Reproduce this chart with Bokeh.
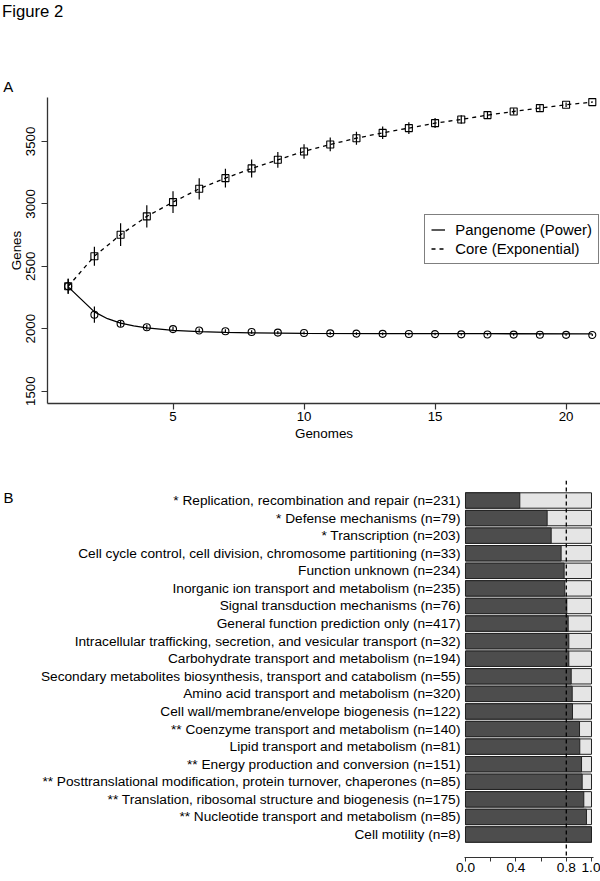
from bokeh.plotting import figure
from bokeh.models import (Range1d, FixedTicker, NumeralTickFormatter, Legend,
                          LegendItem, Label, Span)
from bokeh.layouts import column, row
from bokeh.embed import file_html
from bokeh.resources import INLINE

FONT = "Liberation Sans"

# ---------------- Panel A data ----------------
genomes = list(range(1, 22))
squares_mean = [2340, 2581, 2753, 2900, 3014, 3121, 3206, 3284, 3353, 3420, 3476,
                3526, 3569, 3607, 3647, 3676, 3711, 3740, 3767, 3794, 3815]
squares_sd = [60, 76, 91, 89, 87, 85, 75, 72, 63, 58, 55, 52, 50, 47, 40, 34,
              28, 25, 22, 18, 4]
circles_mean = [2340, 2112, 2040, 2012, 1997, 1986, 1980, 1974, 1969, 1966, 1963,
                1961, 1959, 1958, 1957, 1955, 1954, 1953, 1952, 1951, 1950]
circles_sd = [60, 65, 25, 20, 18, 16, 15, 14, 13, 12, 12, 11, 11, 10, 10, 10,
              9, 9, 9, 8, 8]
power_fit_x = [1, 1.5, 2, 2.5, 3, 3.5, 4, 5, 6, 7, 8, 10, 13, 17, 21]
power_fit_y = [2335, 2235, 2135, 2080, 2045, 2022, 2006, 1987, 1976, 1970, 1967,
               1963, 1961, 1960, 1959]
x_ticks_a = [5, 10, 15, 20]
y_ticks_a = [1500, 2000, 2500, 3000, 3500]
legend_labels = ["Pangenome (Power)", "Core (Exponential)"]

# ---------------- Panel B data ----------------
categories = [
    "* Replication, recombination and repair (n=231)",
    "* Defense mechanisms (n=79)",
    "* Transcription (n=203)",
    "Cell cycle control, cell division, chromosome partitioning (n=33)",
    "Function unknown (n=234)",
    "Inorganic ion transport and metabolism (n=235)",
    "Signal transduction mechanisms (n=76)",
    "General function prediction only (n=417)",
    "Intracellular trafficking, secretion, and vesicular transport (n=32)",
    "Carbohydrate transport and metabolism (n=194)",
    "Secondary metabolites biosynthesis, transport and catabolism (n=55)",
    "Amino acid transport and metabolism (n=320)",
    "Cell wall/membrane/envelope biogenesis (n=122)",
    "** Coenzyme transport and metabolism (n=140)",
    "Lipid transport and metabolism (n=81)",
    "** Energy production and conversion (n=151)",
    "** Posttranslational modification, protein turnover, chaperones (n=85)",
    "** Translation, ribosomal structure and biogenesis (n=175)",
    "** Nucleotide transport and metabolism (n=85)",
    "Cell motility (n=8)",
]
fractions = [0.431, 0.648, 0.680, 0.759, 0.783, 0.788, 0.804, 0.815, 0.820, 0.820,
             0.839, 0.847, 0.849, 0.905, 0.907, 0.921, 0.926, 0.939, 0.960, 1.0]
threshold = 0.8
x_ticks_b = [0, 0.4, 0.8, 1.0]
x_minor_b = [0.2, 0.6]

W = 600
H0 = 97      # header strip ("Figure 2", "A")
H1 = 353     # panel A
H2 = 431     # panel B
WB = 20      # strip holding the "B" letter
AX = "#333333"


def blank(width, height):
    f = figure(width=width, height=height, output_backend="svg",
               toolbar_location=None, x_range=Range1d(0, width),
               y_range=Range1d(height, 0), min_border=0,
               x_axis_location=None, y_axis_location=None)
    f.outline_line_color = None
    f.grid.visible = False
    return f


# ---------------- header ----------------
p0 = blank(W, H0)
p0.add_layout(Label(x=1.5, y=10.5, text="Figure 2", text_font=FONT,
                    text_font_size="16.7px", text_baseline="alphabetic",
                    text_align="left", text_color="black"))
p0.add_layout(Label(x=2.7, y=85.5, text="A", text_font=FONT,
                    text_font_size="15px", text_baseline="alphabetic",
                    text_align="left", text_color="black"))

# ---------------- Panel A ----------------
p1 = figure(width=W, height=H1, output_backend="svg", toolbar_location=None,
            x_range=Range1d(0.2105, 21.313), y_range=Range1d(1401, 3852),
            min_border_left=47, min_border_right=0, min_border_top=0,
            min_border_bottom=47)
p1.outline_line_color = None
p1.grid.visible = False

p1.segment(x0=genomes, y0=[m - s for m, s in zip(squares_mean, squares_sd)],
           x1=genomes, y1=[m + s for m, s in zip(squares_mean, squares_sd)],
           line_color="black", line_width=1.2)
p1.segment(x0=genomes, y0=[m - s for m, s in zip(circles_mean, circles_sd)],
           x1=genomes, y1=[m + s for m, s in zip(circles_mean, circles_sd)],
           line_color="black", line_width=1.2)
r_solid = p1.line(power_fit_x, power_fit_y, line_color="black", line_width=1.3)
r_dash = p1.line(genomes, squares_mean, line_color="black", line_width=1.3,
                 line_dash="4 4")
p1.scatter(genomes, squares_mean, marker="square", size=7, fill_color=None,
           line_color="black", line_width=1.1)
p1.scatter(genomes, circles_mean, marker="circle", size=7, fill_color=None,
           line_color="black", line_width=1.1)

legend = Legend(items=[LegendItem(label=legend_labels[0], renderers=[r_solid]),
                       LegendItem(label=legend_labels[1], renderers=[r_dash])],
                location=(377.3, 139), padding=6, spacing=2, margin=0,
                glyph_width=14, glyph_height=17, label_height=17,
                label_standoff=10, border_line_color="black", border_line_width=1,
                background_fill_color="white", background_fill_alpha=1,
                label_text_font=FONT, label_text_font_size="14.9px",
                label_text_color="black")
p1.add_layout(legend)

for ax in (p1.xaxis[0], p1.yaxis[0]):
    ax.axis_line_color = AX
    ax.axis_line_width = 1.3
    ax.major_tick_line_color = AX
    ax.major_tick_line_width = 1.2
    ax.major_tick_out = 6
    ax.major_tick_in = 0
    ax.minor_tick_line_color = None
    ax.major_label_text_font = FONT
    ax.major_label_text_font_size = "13.3px"
    ax.major_label_text_color = "black"
    ax.axis_label_text_font = FONT
    ax.axis_label_text_font_size = "13.4px"
    ax.axis_label_text_font_style = "normal"
    ax.axis_label_text_color = "black"

p1.xaxis.ticker = FixedTicker(ticks=x_ticks_a)
p1.yaxis.ticker = FixedTicker(ticks=y_ticks_a)
p1.xaxis.axis_label = "Genomes"
p1.yaxis.axis_label = "Genes"
p1.xaxis.major_label_standoff = 2
p1.xaxis.axis_label_standoff = 2
p1.yaxis.major_label_standoff = 6
p1.yaxis.axis_label_standoff = 0
p1.yaxis.major_label_orientation = "vertical"

# ---------------- Panel B ----------------
rows = list(range(1, len(categories) + 1))
pB = blank(WB, H2)
pB.add_layout(Label(x=3, y=47, text="B", text_font=FONT, text_font_size="15px",
                    text_baseline="alphabetic", text_align="left",
                    text_color="black"))

p2 = figure(width=W - WB, height=H2, output_backend="svg", toolbar_location=None,
            x_range=Range1d(-0.0079, 1.0159), y_range=Range1d(21.308, -0.1377),
            min_border_left=464 - WB, min_border_right=7, min_border_top=30,
            min_border_bottom=24)
p2.outline_line_color = None
p2.grid.visible = False

p2.hbar(y=rows, left=0, right=1, height=0.876, fill_color="#e5e5e5",
        line_color="#222222", line_width=1)
p2.hbar(y=rows, left=0, right=fractions, height=0.876, fill_color="#4d4d4d",
        line_color="#222222", line_width=1)
p2.add_layout(Span(location=threshold, dimension="height", line_color="black",
                   line_width=1.3, line_dash="4 3"))

ya = p2.yaxis[0]
ya.ticker = FixedTicker(ticks=rows)
ya.major_label_overrides = {r: c for r, c in zip(rows, categories)}
ya.axis_line_color = None
ya.major_tick_line_color = None
ya.minor_tick_line_color = None
ya.major_tick_out = 0
ya.major_tick_in = 0
ya.major_label_standoff = 4
ya.major_label_text_font = FONT
ya.major_label_text_font_size = "13.7px"
ya.major_label_text_color = "black"

xa = p2.xaxis[0]
xa.ticker = FixedTicker(ticks=x_ticks_b, minor_ticks=x_minor_b)
xa.formatter = NumeralTickFormatter(format="0.0")
xa.axis_line_color = AX
xa.axis_line_width = 1.2
xa.major_tick_line_color = AX
xa.minor_tick_line_color = AX
xa.major_tick_out = 4
xa.major_tick_in = 0
xa.minor_tick_out = 4
xa.minor_tick_in = 0
xa.major_label_standoff = 1
xa.major_label_text_font = FONT
xa.major_label_text_font_size = "13.7px"
xa.major_label_text_color = "black"

for p in (p0, p1, pB, p2):
    if "frame_align" in p.properties():
        p.frame_align = False

layout = column(p0, p1, row(pB, p2, spacing=0), spacing=0)
open("out.html", "w").write(file_html(layout, INLINE))
